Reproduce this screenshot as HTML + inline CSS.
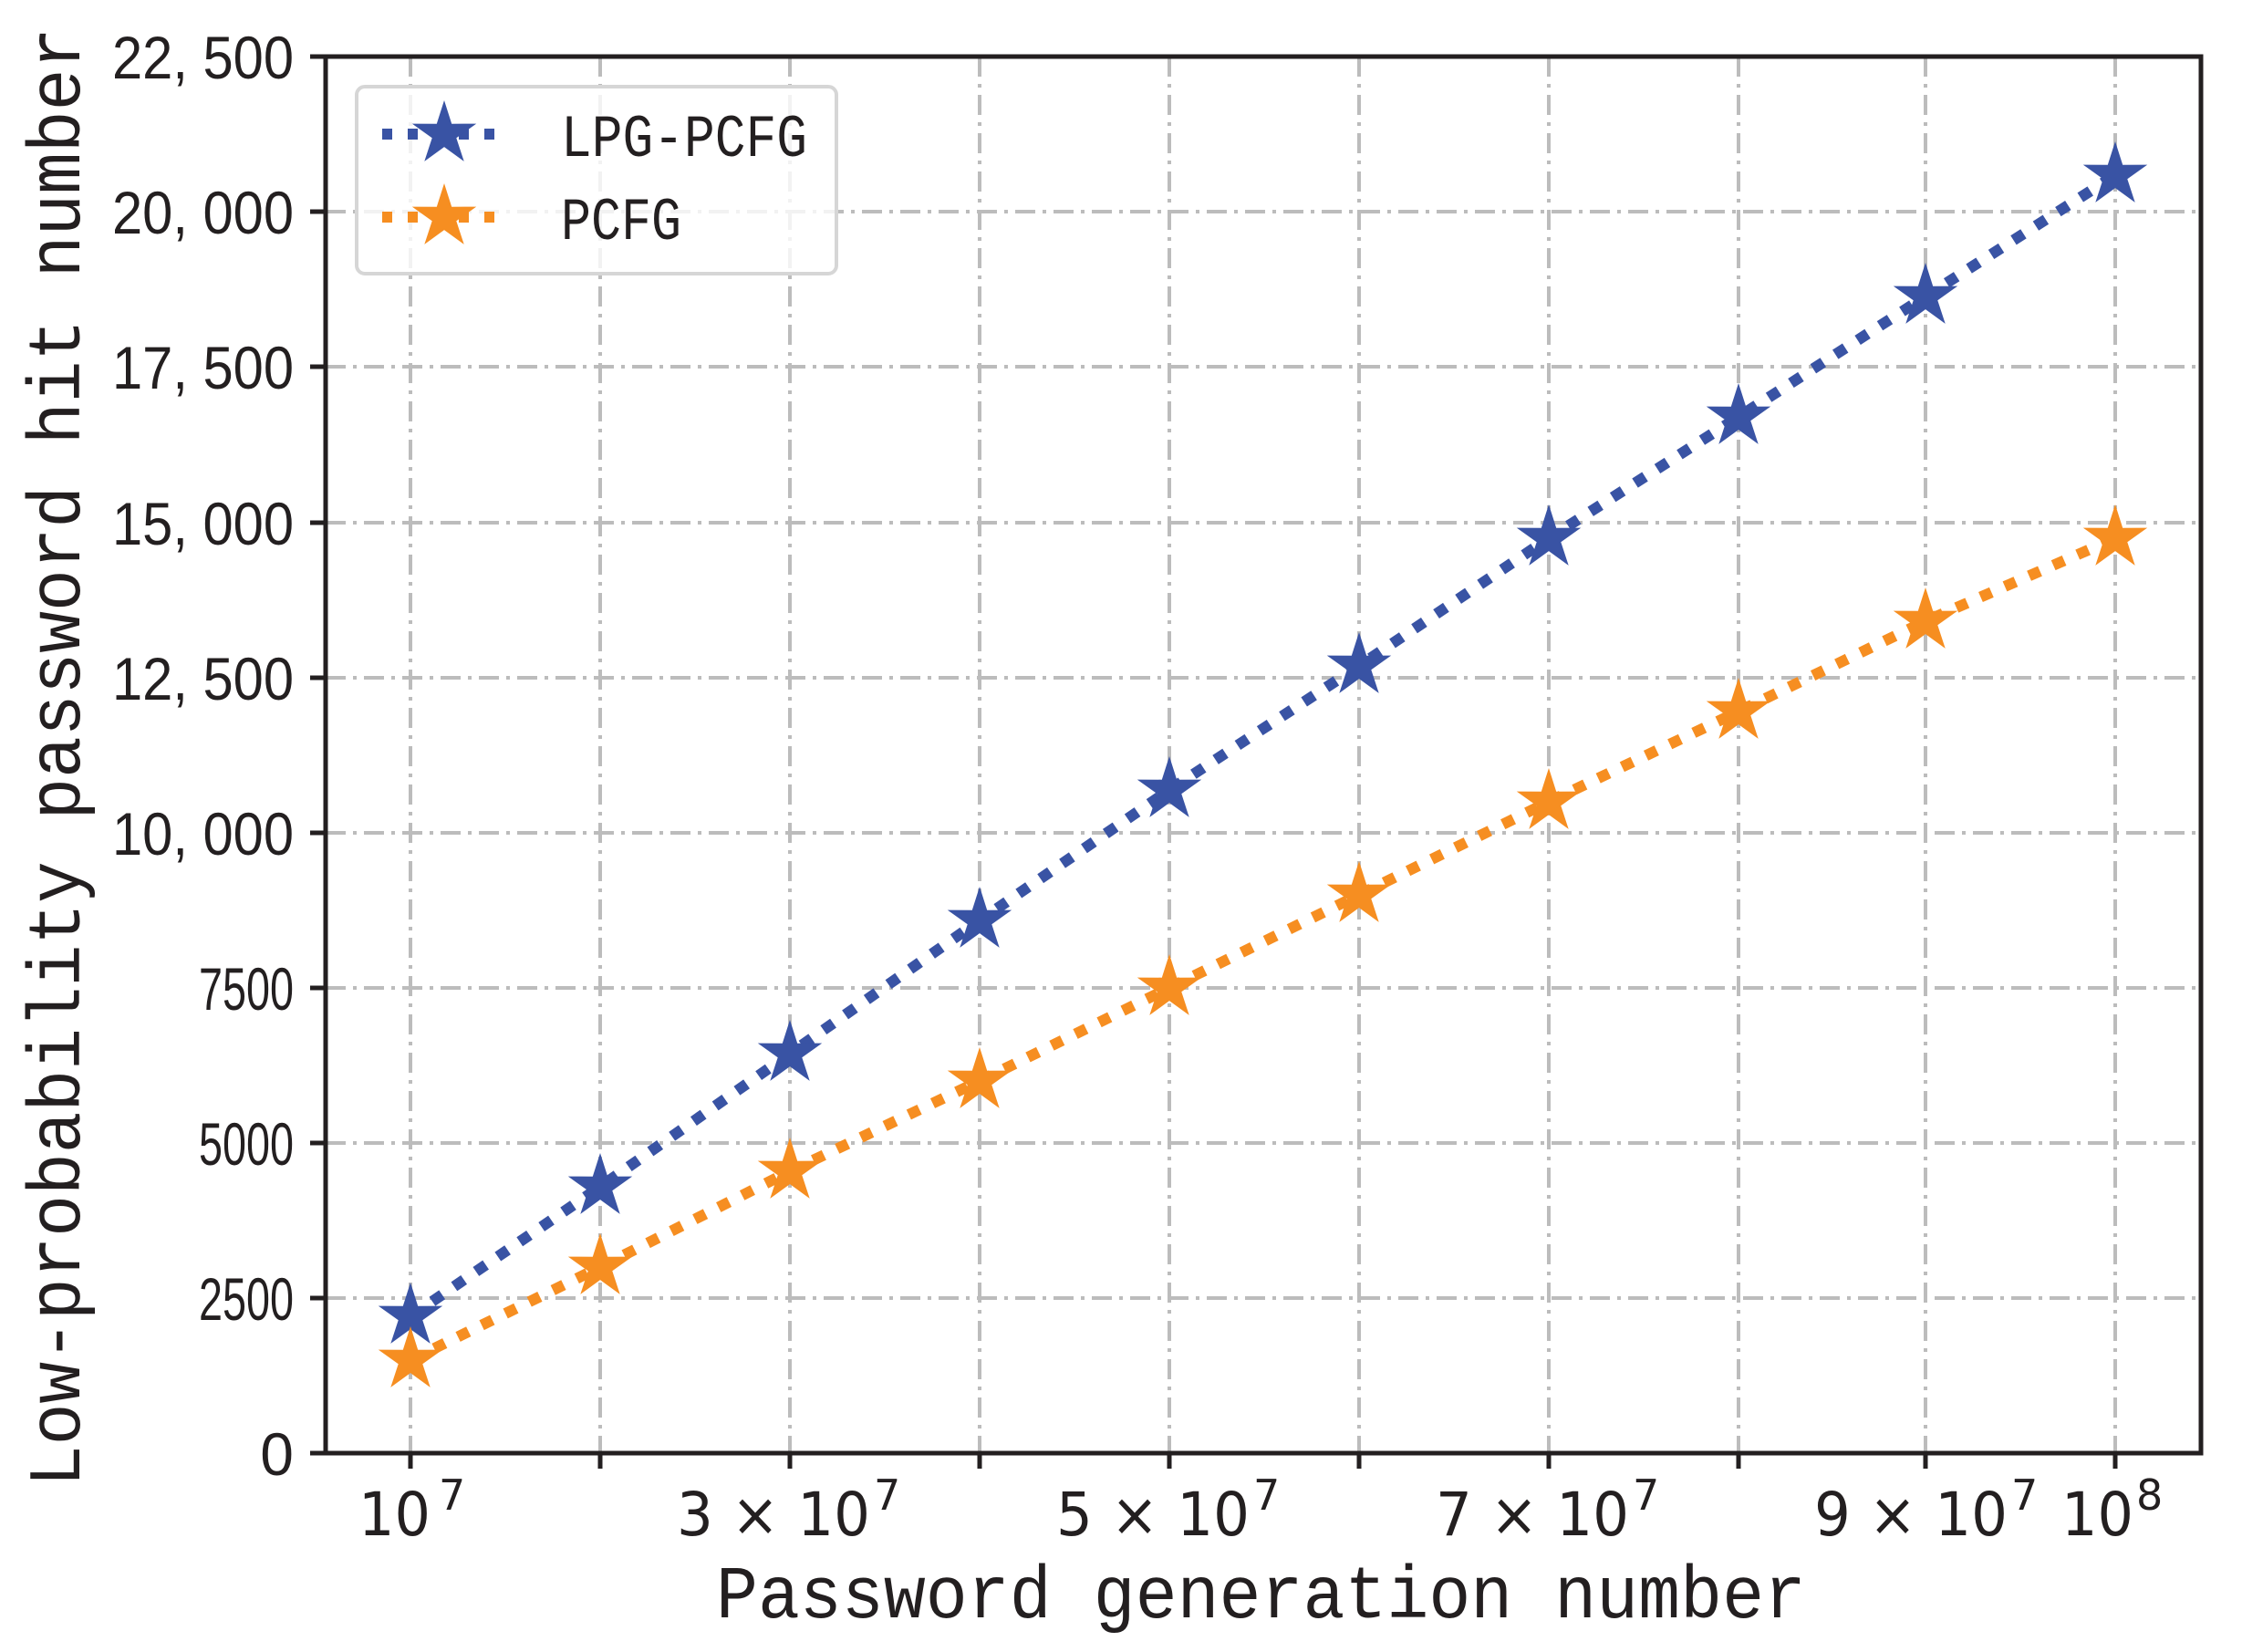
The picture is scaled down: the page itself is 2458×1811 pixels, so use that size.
<!DOCTYPE html>
<html><head><meta charset="utf-8"><style>html,body{margin:0;padding:0;background:#fff}svg{display:block}</style></head>
<body>
<svg width="2458" height="1811" viewBox="0 0 2458 1811" xmlns="http://www.w3.org/2000/svg">
<defs>
<path id="star" d="M0,-37 L8.2,-11.3 L35.2,-11.4 L13.3,4.3 L21.7,29.9 L0,14.1 L-21.7,29.9 L-13.3,4.3 L-35.2,-11.4 L-8.2,-11.3 Z"/>
</defs>
<rect width="2458" height="1811" fill="#fff"/>
<g stroke="#bcbcbc" stroke-width="4" stroke-dasharray="22 8 4 8" fill="none">
<line x1="450" y1="62" x2="450" y2="1593"/><line x1="658" y1="62" x2="658" y2="1593"/><line x1="866" y1="62" x2="866" y2="1593"/><line x1="1074" y1="62" x2="1074" y2="1593"/><line x1="1282" y1="62" x2="1282" y2="1593"/><line x1="1490" y1="62" x2="1490" y2="1593"/><line x1="1698" y1="62" x2="1698" y2="1593"/><line x1="1906" y1="62" x2="1906" y2="1593"/><line x1="2111" y1="62" x2="2111" y2="1593"/><line x1="2319" y1="62" x2="2319" y2="1593"/>
<line x1="357" y1="1423" x2="2413" y2="1423"/><line x1="357" y1="1253" x2="2413" y2="1253"/><line x1="357" y1="1083" x2="2413" y2="1083"/><line x1="357" y1="913" x2="2413" y2="913"/><line x1="357" y1="743" x2="2413" y2="743"/><line x1="357" y1="573" x2="2413" y2="573"/><line x1="357" y1="402" x2="2413" y2="402"/><line x1="357" y1="232" x2="2413" y2="232"/>
</g>
<g fill="none" stroke-width="12" stroke-dasharray="13 16">
<polyline stroke="#3953a4" points="450,1443 658,1301 866,1155 1074,1009 1282,866 1490,730 1698,590 1906,457 2111,325 2319,192"/>
<polyline stroke="#f68e21" points="450,1491 658,1389 866,1284 1074,1185 1282,1083 1490,981 1698,879 1906,780 2111,681 2319,590"/>
</g>
<g fill="#3953a4">
<use href="#star" x="450" y="1443"/><use href="#star" x="658" y="1301"/><use href="#star" x="866" y="1155"/><use href="#star" x="1074" y="1009"/><use href="#star" x="1282" y="866"/><use href="#star" x="1490" y="730"/><use href="#star" x="1698" y="590"/><use href="#star" x="1906" y="457"/><use href="#star" x="2111" y="325"/><use href="#star" x="2319" y="192"/>
</g>
<g fill="#f68e21">
<use href="#star" x="450" y="1491"/><use href="#star" x="658" y="1389"/><use href="#star" x="866" y="1284"/><use href="#star" x="1074" y="1185"/><use href="#star" x="1282" y="1083"/><use href="#star" x="1490" y="981"/><use href="#star" x="1698" y="879"/><use href="#star" x="1906" y="780"/><use href="#star" x="2111" y="681"/><use href="#star" x="2319" y="590"/>
</g>
<rect x="357" y="62" width="2056" height="1531" fill="none" stroke="#231f20" stroke-width="5"/>
<g stroke="#231f20" stroke-width="5">
<line x1="450" y1="1593" x2="450" y2="1610"/><line x1="658" y1="1593" x2="658" y2="1610"/><line x1="866" y1="1593" x2="866" y2="1610"/><line x1="1074" y1="1593" x2="1074" y2="1610"/><line x1="1282" y1="1593" x2="1282" y2="1610"/><line x1="1490" y1="1593" x2="1490" y2="1610"/><line x1="1698" y1="1593" x2="1698" y2="1610"/><line x1="1906" y1="1593" x2="1906" y2="1610"/><line x1="2111" y1="1593" x2="2111" y2="1610"/><line x1="2319" y1="1593" x2="2319" y2="1610"/>
<line x1="340" y1="1593" x2="357" y2="1593"/><line x1="340" y1="1423" x2="357" y2="1423"/><line x1="340" y1="1253" x2="357" y2="1253"/><line x1="340" y1="1083" x2="357" y2="1083"/><line x1="340" y1="913" x2="357" y2="913"/><line x1="340" y1="743" x2="357" y2="743"/><line x1="340" y1="573" x2="357" y2="573"/><line x1="340" y1="402" x2="357" y2="402"/><line x1="340" y1="232" x2="357" y2="232"/><line x1="340" y1="62" x2="357" y2="62"/>
</g>
<g font-family="Liberation Sans, sans-serif" font-size="66" fill="#231f20" text-anchor="end">
<text x="322" y="1617">0</text>
<text x="322" y="1447" textLength="104" lengthAdjust="spacingAndGlyphs">2500</text>
<text x="322" y="1277" textLength="104" lengthAdjust="spacingAndGlyphs">5000</text>
<text x="322" y="1107" textLength="104" lengthAdjust="spacingAndGlyphs">7500</text>
<text x="322" y="937" textLength="199" lengthAdjust="spacingAndGlyphs">10, 000</text>
<text x="322" y="767" textLength="199" lengthAdjust="spacingAndGlyphs">12, 500</text>
<text x="322" y="597" textLength="199" lengthAdjust="spacingAndGlyphs">15, 000</text>
<text x="322" y="426" textLength="199" lengthAdjust="spacingAndGlyphs">17, 500</text>
<text x="322" y="256" textLength="199" lengthAdjust="spacingAndGlyphs">20, 000</text>
<text x="322" y="86" textLength="199" lengthAdjust="spacingAndGlyphs">22, 500</text>
</g>
<g font-family="DejaVu Sans, sans-serif" fill="#231f20">
<g font-size="66">
<text x="393" y="1683" textLength="79" lengthAdjust="spacingAndGlyphs">10</text>
<text x="742" y="1683" textLength="212" lengthAdjust="spacingAndGlyphs">3 × 10</text>
<text x="1158" y="1683" textLength="212" lengthAdjust="spacingAndGlyphs">5 × 10</text>
<text x="1574" y="1683" textLength="212" lengthAdjust="spacingAndGlyphs">7 × 10</text>
<text x="1989" y="1683" textLength="212" lengthAdjust="spacingAndGlyphs">9 × 10</text>
<text x="2260" y="1683" textLength="79" lengthAdjust="spacingAndGlyphs">10</text>
</g>
<g font-size="46">
<text x="481" y="1655">7</text><text x="958" y="1655">7</text><text x="1374" y="1655">7</text><text x="1790" y="1655">7</text><text x="2205" y="1655">7</text><text x="2342" y="1655">8</text>
</g>
</g>
<text x="785" y="1773" font-family="Liberation Mono, monospace" font-size="82" fill="#231f20" textLength="1195" lengthAdjust="spacingAndGlyphs">Password generation number</text>
<text transform="translate(87,1630) rotate(-90)" x="0" y="0" font-family="Liberation Mono, monospace" font-size="82" fill="#231f20" textLength="1600" lengthAdjust="spacingAndGlyphs">Low-probability password hit number</text>
<rect x="391" y="95" width="526" height="205" rx="9" fill="#fff" fill-opacity="0.8" stroke="#d6d6d6" stroke-width="4"/>
<line x1="419" y1="147" x2="553" y2="147" stroke="#3953a4" stroke-width="12" stroke-dasharray="11 17"/>
<line x1="419" y1="238" x2="553" y2="238" stroke="#f68e21" stroke-width="12" stroke-dasharray="11 17"/>
<use href="#star" x="487" y="147" fill="#3953a4"/>
<use href="#star" x="487" y="238" fill="#f68e21"/>
<g font-family="Liberation Mono, monospace" font-size="66" fill="#231f20">
<text x="615" y="171" textLength="270" lengthAdjust="spacingAndGlyphs">LPG-PCFG</text>
<text x="615" y="262" textLength="132" lengthAdjust="spacingAndGlyphs">PCFG</text>
</g>
</svg>
</body></html>
